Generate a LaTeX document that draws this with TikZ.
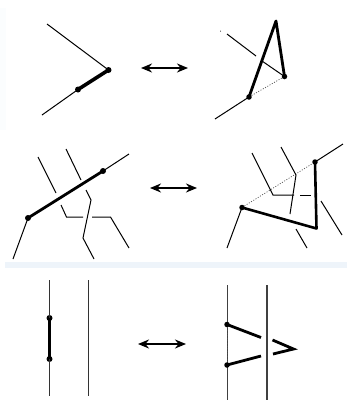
\documentclass[tikz,border=0pt]{standalone}
\usepackage{tikz}
\usetikzlibrary{arrows.meta,positioning}
\definecolor{bandblue}{HTML}{EEF4FA}
\definecolor{stripblue}{HTML}{FBFDFE}
\tikzset{
  %% one unit is one pixel of the sheet, y running downwards
  kwthin/.style={draw=black, line width=1pt},
  kwmid/.style={draw=black!80, line width=1.4pt},
  kwwide/.style={draw=black!75, line width=1.7pt},
  kwthick/.style={draw=black, line width=#1},
  kwdots/.style={draw=black!70, line width=0.7pt, dash pattern=on 1pt off 1.6pt},
  kwdot/.style={circle, fill=black, inner sep=0pt, minimum size=#1},
  kwmove/.style={{Stealth[length=11pt,width=9pt]}-{Stealth[length=11pt,width=9pt]},
    draw=black, line width=1.8pt},
}

\begin{document}
\begin{tikzpicture}[x=1pt,y=-1pt]
\useasboundingbox (0,0) rectangle (347,400);

%% --- pale scan edges ----------------------------------------------
\fill[stripblue] (0,8) rectangle (5.5,130);
\fill[bandblue] (5,262) rectangle (347,268);

%% --- first row: corner --------------------------------------------
\coordinate (aTop) at (47,24);
\coordinate (aLow) at (42,115);
\node[kwdot=6pt] (aTip) at (108.5,70) {};
\node[kwdot=6pt] (aEnd) at (78,89.5) {};
\draw[kwthin] (aTop) -- (aTip.center);
\draw[kwthin] (aLow) -- (aEnd.center);
\draw[kwthick=3.6pt] (aEnd.center) -- (aTip.center);

\coordinate (aMoveL) at (141,68);
\coordinate (aMoveR) at (188,68);
\draw[kwmove] (aMoveL) -- (aMoveR);

\coordinate (bTop) at (227,34);
\coordinate (bGap) at (256,56);
\coordinate (bRes) at (262,61);
\coordinate (bLow) at (215,119);
\coordinate (bPeak) at (276,21);
\node[kwdot=1pt] (bSpeck) at (220.5,31) {};
\node[kwdot=5.5pt] (bRight) at (284.5,76.5) {};
\node[kwdot=5.5pt] (bLeft) at (249,97) {};
\draw[kwthin] (bTop) -- (bGap);
\draw[kwthin] (bRes) -- (bRight.center);
\draw[kwthin] (bLow) -- (bLeft.center);
\draw[kwdots] (bLeft) -- (bRight);
\draw[kwthick=2.8pt, line join=round] (bLeft.center) -- (bPeak) -- (bRight.center);

%% --- second row: crossing strands ---------------------------------
\coordinate (cLow) at (13,259);
\coordinate (cHigh) at (129,154);
\node[kwdot=6pt] (cLeft) at (28,218) {};
\node[kwdot=6pt] (cRight) at (103,171) {};
\draw[kwthin] (cLow) -- (cLeft.center);
\draw[kwthin] (cRight.center) -- (cHigh);
\draw[kwthick=2.8pt] (cLeft.center) -- (cRight.center);

\coordinate (cOneA) at (38,157);
\coordinate (cOneB) at (56,193);
\coordinate (cOneC) at (61,205);
\coordinate (cOneD) at (66.5,217);
\coordinate (cOneE) at (83,217);
\coordinate (cOneF) at (92,217);
\coordinate (cOneG) at (110.5,217);
\coordinate (cOneH) at (129,248);
\draw[kwthin] (cOneA) -- (cOneB);
\draw[kwthin] (cOneC) -- (cOneD) -- (cOneE);
\draw[kwthin] (cOneF) -- (cOneG) -- (cOneH);

\coordinate (cTwoA) at (66,149);
\coordinate (cTwoB) at (81,180);
\coordinate (cTwoC) at (86,190);
\coordinate (cTwoD) at (91,200);
\coordinate (cTwoE) at (83,238);
\coordinate (cTwoF) at (94,259);
\draw[kwthin] (cTwoA) -- (cTwoB);
\draw[kwthin] (cTwoC) -- (cTwoD) -- (cTwoE) -- (cTwoF);

\coordinate (cMoveL) at (150,188);
\coordinate (cMoveR) at (197,188);
\draw[kwmove] (cMoveL) -- (cMoveR);

\coordinate (dLow) at (227,248);
\coordinate (dHigh) at (343,144);
\coordinate (dBend) at (316.5,228.5);
\node[kwdot=5.5pt] (dLeft) at (242,207.5) {};
\node[kwdot=5.5pt] (dRight) at (315,162) {};
\draw[kwthin] (dLow) -- (dLeft.center);
\draw[kwthin] (dRight.center) -- (dHigh);
\draw[kwdots] (dLeft) -- (dRight);
\draw[kwthick=2.6pt, line join=round] (dLeft.center) -- (dBend) -- (dRight.center);

\coordinate (dOneA) at (252,153);
\coordinate (dOneB) at (273,195);
\coordinate (dOneC) at (294,195);
\coordinate (dOneD) at (300,195);
\coordinate (dOneE) at (311,195);
\coordinate (dOneF) at (321,201);
\coordinate (dOneG) at (342,235);
\coordinate (dOneH) at (296,229);
\coordinate (dOneI) at (307,248);
\draw[kwthin] (dOneA) -- (dOneB) -- (dOneC);
\draw[kwthin] (dOneD) -- (dOneE);
\draw[kwthin] (dOneF) -- (dOneG);
\draw[kwthin] (dOneH) -- (dOneI);

\coordinate (dTwoA) at (281,147);
\coordinate (dTwoB) at (296,175);
\coordinate (dTwoC) at (290,214);
\draw[kwthin] (dTwoA) -- (dTwoB) -- (dTwoC);

%% --- third row: parallel strands ----------------------------------
\coordinate (eOneT) at (49.5,280);
\coordinate (eOneB) at (49.5,396);
\coordinate (eTwoT) at (88.5,280);
\coordinate (eTwoB) at (88.5,396);
\node[kwdot=6pt] (eUp) at (49.5,318) {};
\node[kwdot=6pt] (eDown) at (49.5,359) {};
\draw[kwmid] (eOneT) -- (eOneB);
\draw[kwmid] (eTwoT) -- (eTwoB);
\draw[kwthick=2.8pt] (eUp.center) -- (eDown.center);

\coordinate (eMoveL) at (138,344);
\coordinate (eMoveR) at (186,344);
\draw[kwmove] (eMoveL) -- (eMoveR);

\coordinate (fOneT) at (227.5,285);
\coordinate (fOneB) at (227.5,400);
\coordinate (fTwoT) at (267,285);
\coordinate (fTwoB) at (267,400);
\draw[kwwide] (fOneT) -- (fOneB);
\draw[kwwide] (fTwoT) -- (fTwoB);

\coordinate (fUpEnd) at (261,337.5);
\coordinate (fLowEnd) at (261,356);
\coordinate (fVeeA) at (272.5,340);
\coordinate (fVeeB) at (293.5,349);
\coordinate (fVeeC) at (273,354);
\node[kwdot=5.5pt] (fUp) at (227,324.5) {};
\node[kwdot=5.5pt] (fLow) at (227,365) {};
\draw[kwdots] (fUp) -- (fLow);
\draw[kwthick=2.8pt] (fUp.center) -- (fUpEnd);
\draw[kwthick=2.8pt] (fLow.center) -- (fLowEnd);
\draw[kwthick=2.8pt, line join=miter] (fVeeA) -- (fVeeB) -- (fVeeC);

\end{tikzpicture}
\end{document}
